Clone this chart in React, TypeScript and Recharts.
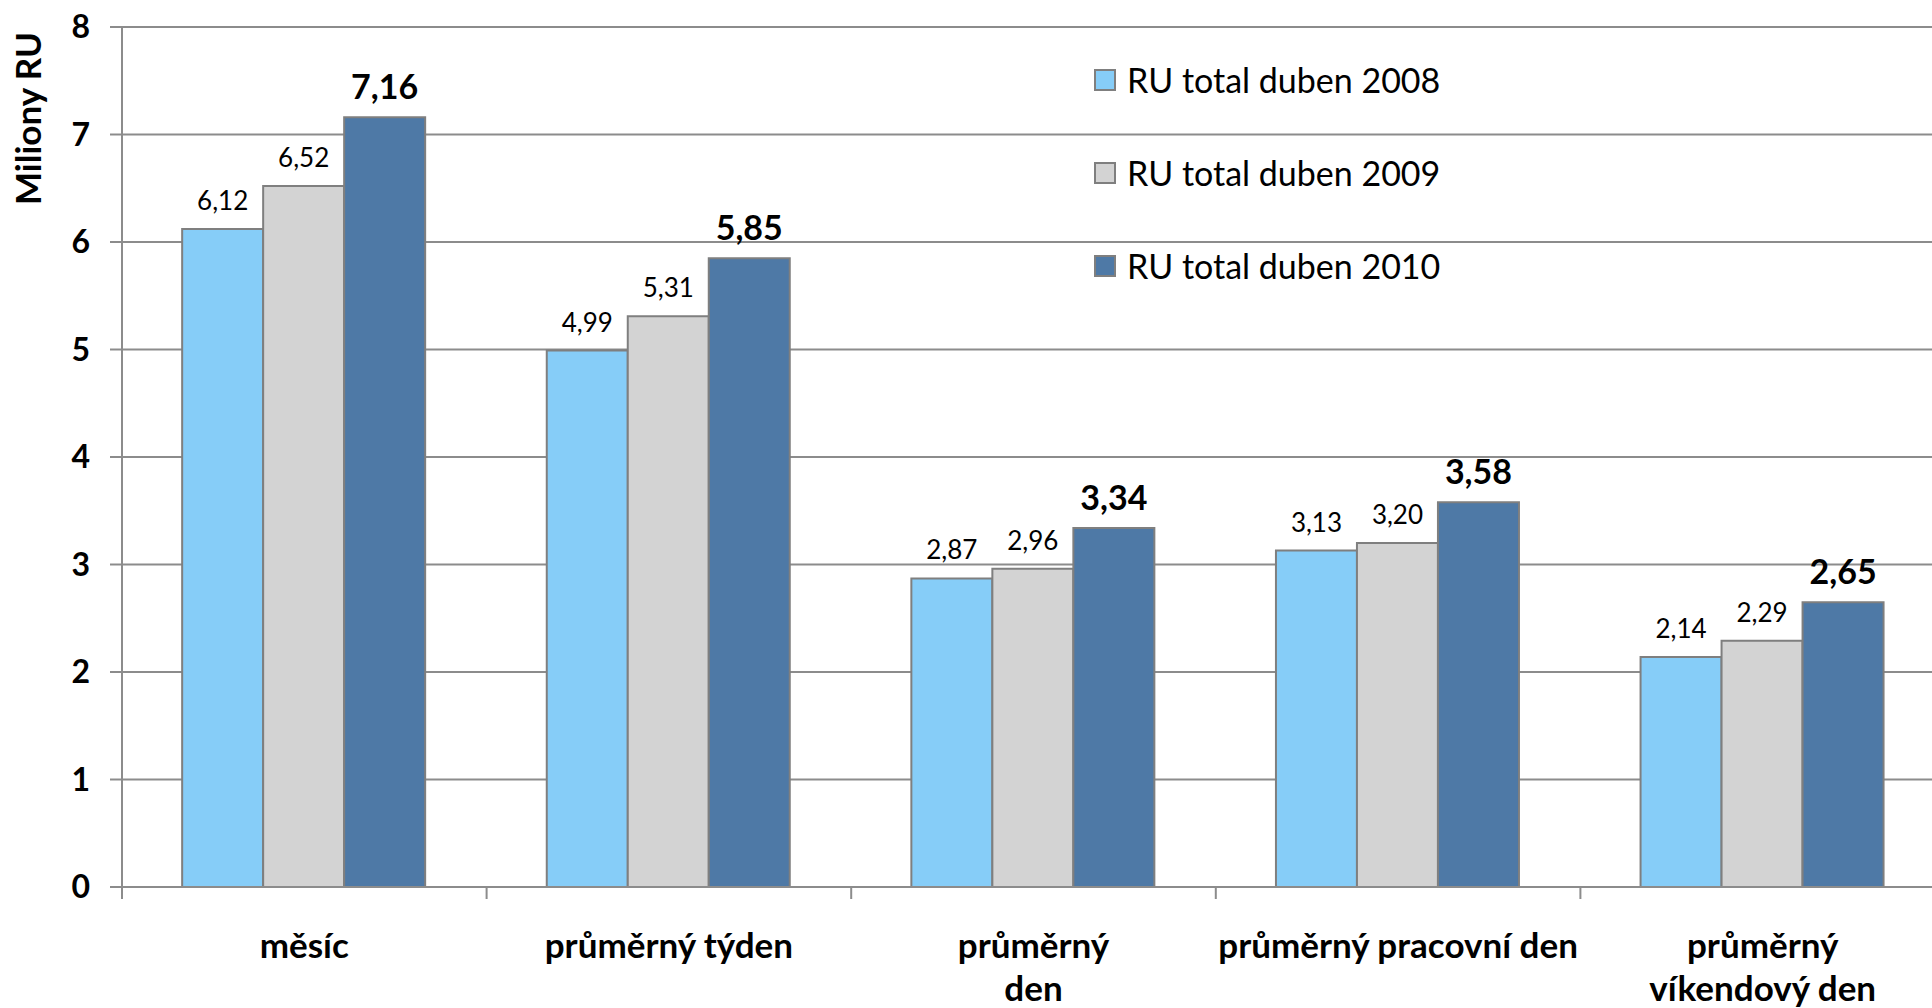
import React from 'react';
import { BarChart, Bar, XAxis, YAxis, CartesianGrid, LabelList } from 'recharts';

const categories = ['měsíc', 'průměrný týden', 'průměrný den', 'průměrný pracovní den', 'průměrný víkendový den'];
const categoryLines = [['měsíc'], ['průměrný týden'], ['průměrný', 'den'], ['průměrný pracovní den'], ['průměrný', 'víkendový den']];
const ru2008 = [6.12, 4.99, 2.87, 3.13, 2.14];
const ru2009 = [6.52, 5.31, 2.96, 3.2, 2.29];
const ru2010 = [7.16, 5.85, 3.34, 3.58, 2.65];
const yTicks = [0, 1, 2, 3, 4, 5, 6, 7, 8];

const series = [
  { key: 'r2008', name: 'RU total duben 2008', color: '#86cdf8', bold: false },
  { key: 'r2009', name: 'RU total duben 2009', color: '#d3d3d3', bold: false },
  { key: 'r2010', name: 'RU total duben 2010', color: '#4e79a6', bold: true },
];

const data = categories.map((name, i) => ({
  name,
  r2008: ru2008[i],
  r2009: ru2009[i],
  r2010: ru2010[i],
}));

const FONT = 'Lato, "Open Sans", sans-serif';
const GRID = '#8c8c8c';
const CHART_W = 1958;
const CHART_H = 1008;
const Y_W = 122;
const RIGHT = 13;
const X_H = 121;
const HALF_BAND = (CHART_W - Y_W - RIGHT) / categories.length / 2;

const fmt = (v: any) => Number(v).toFixed(2).replace('.', ',');

function CategoryTick(props: any) {
  const { x, y, payload, index } = props;
  const lines = categoryLines[index] ?? [payload.value];
  return (
    <g>
      <line x1={x - HALF_BAND} x2={x - HALF_BAND} y1={y} y2={y + 12} stroke={GRID} strokeWidth={2} />
      <text x={x} y={y + 71} textAnchor="middle" fontFamily={FONT} fontWeight={700} fontSize={35} fill="#000">
        {lines.map((l: string, i: number) => (
          <tspan key={i} x={x} dy={i === 0 ? 0 : 43}>{l}</tspan>
        ))}
      </text>
    </g>
  );
}

export default function App() {
  return (
    <div style={{ position: 'fixed', left: 0, top: 0, width: 1932, height: 1008, overflow: 'hidden', background: '#fff' }}>
      <BarChart
        width={CHART_W}
        height={CHART_H}
        data={data}
        margin={{ top: 27, right: RIGHT, left: 0, bottom: 0 }}
        barCategoryGap="16.5%"
        barGap={0}
      >
        <CartesianGrid vertical={false} stroke={GRID} strokeWidth={2} />
        <XAxis
          dataKey="name"
          height={X_H}
          axisLine={{ stroke: GRID, strokeWidth: 2 }}
          tickLine={false}
          tickSize={0}
          tickMargin={0}
          interval={0}
          tick={<CategoryTick />}
        />
        <YAxis
          width={Y_W}
          domain={[0, 8]}
          ticks={yTicks}
          interval={0}
          axisLine={{ stroke: GRID, strokeWidth: 2 }}
          tickLine={{ stroke: GRID, strokeWidth: 2 }}
          tickSize={12}
          tickMargin={20}
          tick={{ fontFamily: FONT, fontWeight: 700, fontSize: 32, fill: '#000' }}
        />
        {series.map((s) => (
          <Bar
            key={s.key}
            dataKey={s.key}
            name={s.name}
            fill={s.color}
            stroke="#7f7f7f"
            strokeWidth={2}
            isAnimationActive={false}
          >
            <LabelList
              dataKey={s.key}
              position="top"
              offset={s.bold ? 18 : 19}
              formatter={fmt}
              style={{
                fontFamily: FONT,
                fontWeight: s.bold ? 700 : 400,
                fontSize: s.bold ? 34 : 26,
                fill: '#000',
              }}
            />
          </Bar>
        ))}
      </BarChart>
      <div
        style={{
          position: 'absolute',
          left: 7,
          top: 37,
          height: 168,
          width: 40,
          writingMode: 'vertical-rl',
          transform: 'rotate(180deg)',
          textAlign: 'center',
          fontFamily: FONT,
          fontWeight: 700,
          fontSize: 35,
          lineHeight: '40px',
          whiteSpace: 'nowrap',
        }}
      >
        Miliony RU
      </div>
      <div style={{ position: 'absolute', left: 1094, top: 58, fontFamily: FONT }}>
        {series.map((s) => (
          <div key={s.key} style={{ display: 'flex', alignItems: 'center', height: 44, marginBottom: 49 }}>
            <span
              style={{
                display: 'inline-block',
                width: 18,
                height: 18,
                background: s.color,
                border: '2px solid #7f7f7f',
                marginRight: 11,
              }}
            />
            <span style={{ fontSize: 34, color: '#000', lineHeight: '44px' }}>{s.name}</span>
          </div>
        ))}
      </div>
    </div>
  );
}
